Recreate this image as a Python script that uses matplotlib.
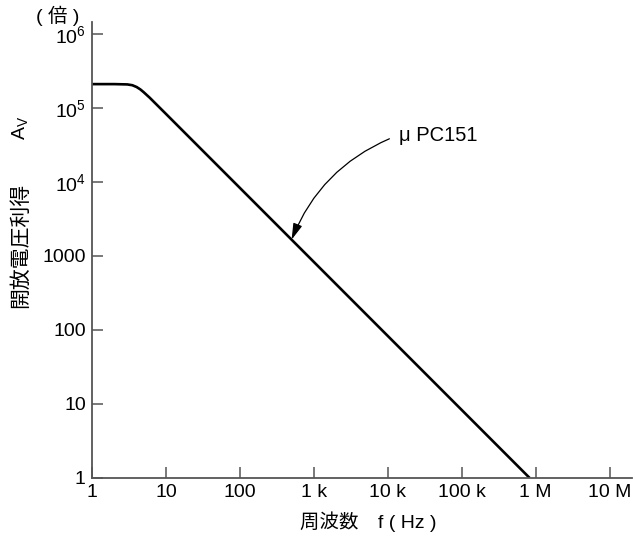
import matplotlib
matplotlib.use("Agg")
import matplotlib.pyplot as plt

# open-loop voltage gain of uPC151
freq_hz = [1, 2, 3, 3.5, 4, 4.5, 5, 6, 10, 100, 1e3, 1e4, 1e5, 8.3e5]
gain = [2.1e5, 2.1e5, 2.08e5, 2.03e5, 1.92e5, 1.78e5, 1.63e5, 1.38e5,
        8.3e4, 8.3e3, 830, 83, 8.3, 1]

x_ticks = [1, 10, 100, 1e3, 1e4, 1e5, 1e6, 1e7]
x_labels = ["1", "10", "100", "1 k", "10 k", "100 k", "1 M", "10 M"]
y_ticks = [1, 10, 100, 1e3, 1e4, 1e5, 1e6]
y_labels = ["1", "10", "100", "1000", r"$\mathregular{10^4}$",
            r"$\mathregular{10^5}$", r"$\mathregular{10^6}$"]

CJK = ["Noto Sans CJK JP", "DejaVu Sans"]
MIXED = ["Liberation Sans", "Noto Sans CJK JP", "DejaVu Sans"]
plt.rcParams["font.family"] = MIXED
plt.rcParams["mathtext.fontset"] = "custom"
plt.rcParams["mathtext.rm"] = "Liberation Sans"

fig = plt.figure(figsize=(6.35, 5.41), dpi=100)
ax = fig.add_axes([0.145, 0.1165, 0.85, 0.8428])

ax.plot(freq_hz, gain, color="black", lw=1.9, solid_capstyle="butt")
ax.set_xscale("log")
ax.set_yscale("log")
ax.set_xlim(1, 2e7)
ax.set_ylim(1, 1.45e6)

ax.set_xticks(x_ticks)
ax.set_xticklabels(x_labels)
ax.set_yticks(y_ticks)
ax.set_yticklabels(y_labels)
ax.minorticks_off()
ax.tick_params(direction="in", length=8, width=1.1, color="#555555",
               labelsize=14)
ax.tick_params(axis="x", pad=4)
ax.tick_params(axis="y", pad=4.5)

for side in ("top", "right"):
    ax.spines[side].set_visible(False)
for side in ("left", "bottom"):
    ax.spines[side].set_color("#555555")
    ax.spines[side].set_linewidth(1.3)

ax.annotate("μ PC151", xy=(500, 1660), xytext=(1.4e4, 4.3e4),
            ha="left", va="center", fontsize=14.5,
            arrowprops=dict(arrowstyle="-|>,head_length=0.7,head_width=0.2",
                            color="black", lw=0.9,
                            connectionstyle="arc3,rad=0.22",
                            relpos=(0, 0.5), shrinkA=5, shrinkB=0,
                            mutation_scale=14))

fig.text(0.5795, 0.035, "周波数　f ( Hz )", ha="center", va="center",
         fontsize=14, family=MIXED)
fig.text(0.0315, 0.547, "開放電圧利得", rotation=90, ha="center", va="center",
         fontsize=15, family=CJK)
fig.text(0.0315, 0.763, r"A$\mathregular{_V}$", rotation=90, ha="center",
         va="center", fontsize=14)
fig.text(0.0913, 0.971, "( 倍 )", ha="center", va="center", fontsize=14,
         family=MIXED)

fig.savefig("out.png", dpi=100)
